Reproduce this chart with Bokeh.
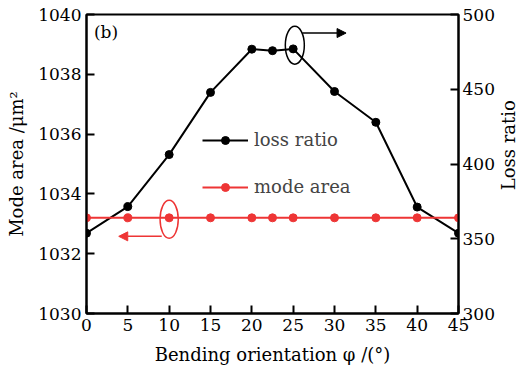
import math
from bokeh.plotting import figure
from bokeh.layouts import row
from bokeh.models import (Range1d, LinearAxis, FixedTicker, Legend, LegendItem,
                          Arrow, NormalHead, Label)
from bokeh.embed import file_html
from bokeh.resources import INLINE

# ---- data ----
angles = [0, 5, 10, 15, 20, 22.5, 25, 30, 35, 40, 45]
loss_ratio = [353.7, 371.5, 406.3, 447.9, 476.8, 475.8, 477.0, 448.5, 427.9, 371.2, 353.7]
mode_area = [1033.2] * 11
x_ticks = [0, 5, 10, 15, 20, 25, 30, 35, 40, 45]
left_ticks = [1030, 1032, 1034, 1036, 1038, 1040]
right_ticks = [300, 350, 400, 450, 500]

FONT = "DejaVu Serif"
RED = "#ee3535"

p = figure(width=497, height=374, output_backend="svg", toolbar_location=None,
           x_range=Range1d(0, 45), y_range=Range1d(1030, 1040),
           min_border_left=86, min_border_right=37, min_border_top=14, min_border_bottom=61)
p.extra_y_ranges = {"right": Range1d(300, 500)}
p.grid.visible = False
p.outline_line_color = "black"
p.outline_line_width = 2
p.background_fill_color = "white"
p.border_fill_color = "white"

ax_r = LinearAxis(y_range_name="right")
p.add_layout(ax_r, "right")

for ax in [p.xaxis[0], p.yaxis[0], ax_r]:
    ax.axis_line_width = 2
    ax.axis_line_color = "black"
    ax.major_tick_in = 8
    ax.major_tick_out = 0
    ax.major_tick_line_width = 2
    ax.minor_tick_in = 0
    ax.minor_tick_out = 0
    ax.major_label_text_font = FONT
    ax.major_label_text_font_size = "17px"
    ax.major_label_text_color = "black"
    ax.axis_label_text_font = FONT
    ax.axis_label_text_font_size = "18px"
    ax.axis_label_text_font_style = "normal"
    ax.axis_label_text_color = "black"

p.xaxis[0].ticker = FixedTicker(ticks=x_ticks)
p.yaxis[0].ticker = FixedTicker(ticks=left_ticks)
ax_r.ticker = FixedTicker(ticks=right_ticks)
p.xaxis[0].axis_label = "Bending orientation φ /(°)"
p.yaxis[0].axis_label = "Mode area /μm²"
p.xaxis[0].major_label_standoff = 5
p.xaxis[0].axis_label_standoff = 10
p.yaxis[0].major_label_standoff = 5
p.yaxis[0].axis_label_standoff = 8
ax_r.major_label_standoff = 4

# series
l1 = p.line(angles, loss_ratio, y_range_name="right", line_color="black", line_width=2)
s1 = p.scatter(angles, loss_ratio, y_range_name="right", size=8, fill_color="black",
               line_color="black")
l2 = p.line(angles, mode_area, line_color=RED, line_width=2)
s2 = p.scatter(angles, mode_area, size=8, fill_color=RED, line_color=RED)

# annotations
p.ellipse(x=[10], y=[1033.15], width=2.2, height=1.27, fill_color=None,
          line_color=RED, line_width=1.5)
p.add_layout(Arrow(x_start=9.1, y_start=1032.58, x_end=3.9, y_end=1032.58,
                   line_color=RED, line_width=1.5,
                   end=NormalHead(size=9, fill_color=RED, line_color=RED)))
p.ellipse(x=[25.2], y=[1038.97], width=2.3, height=1.27, fill_color=None,
          line_color="black", line_width=1.5)
p.add_layout(Arrow(x_start=26.1, y_start=1039.38, x_end=31.4, y_end=1039.38,
                   line_color="black", line_width=1.5,
                   end=NormalHead(size=9, fill_color="black", line_color="black")))
p.add_layout(Label(x=0.9, y=1039.4, text="(b)", text_font=FONT, text_font_size="17px",
                   text_baseline="middle", text_color="black"))

legend = Legend(items=[LegendItem(label="loss ratio", renderers=[l1, s1]),
                       LegendItem(label="mode area", renderers=[l2, s2])],
                location=(116, 116), orientation="vertical",
                glyph_width=46, glyph_height=20, label_height=20, spacing=26,
                padding=0, margin=0, label_standoff=6,
                label_text_font=FONT, label_text_font_size="18px",
                border_line_color=None, background_fill_alpha=0)
p.add_layout(legend, "center")

# narrow side figure holding the right axis title (reads bottom to top)
p2 = figure(width=27, height=374, output_backend="svg", toolbar_location=None,
            x_range=Range1d(0, 1), y_range=Range1d(0, 1), min_border=0,
            min_border_left=0, min_border_right=0, min_border_top=0, min_border_bottom=0)
p2.axis.visible = False
p2.grid.visible = False
p2.outline_line_color = None
p2.background_fill_color = "white"
p2.border_fill_color = "white"
p2.add_layout(Label(x=0.42, y=0.563, text="Loss ratio", angle=math.pi / 2,
                    text_font=FONT, text_font_size="18px", text_align="center",
                    text_baseline="middle", text_color="black"))

layout = row(p, p2, spacing=0)
open("out.html", "w").write(file_html(layout, INLINE))
